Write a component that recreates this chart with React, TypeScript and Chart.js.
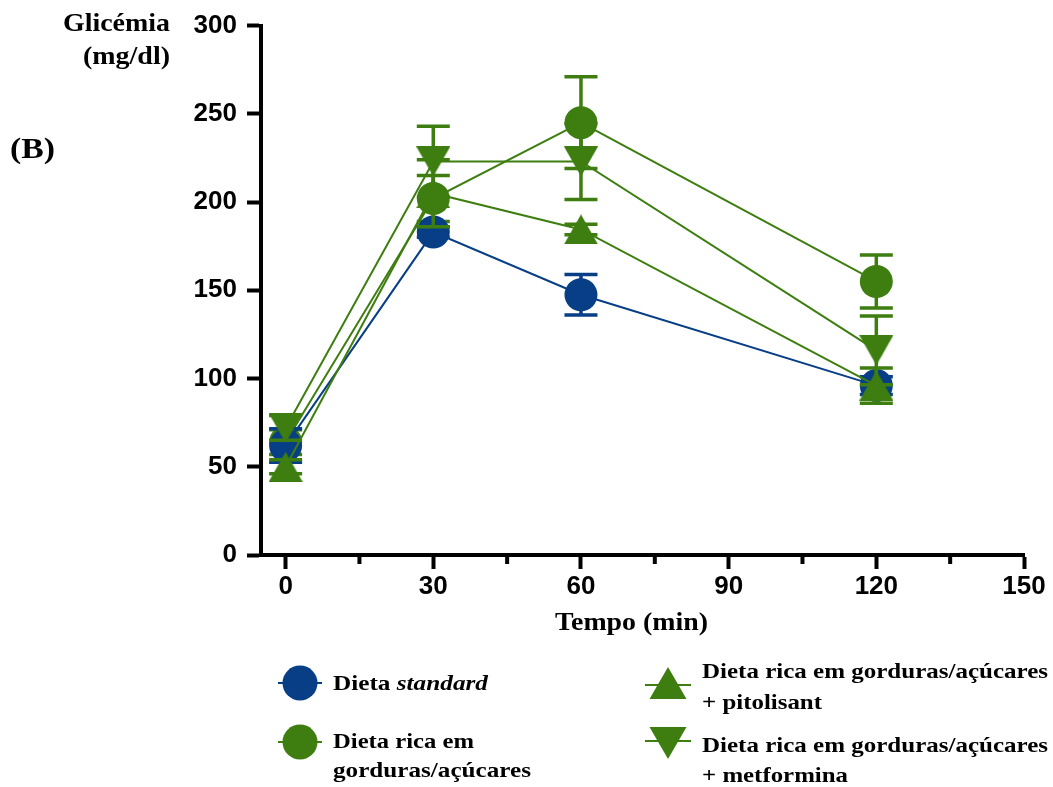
import React, { useEffect, useRef } from "react";
import { Chart, registerables } from "chart.js";

Chart.register(...registerables);

// ---- Data ----
const times = [0, 30, 60, 120];

const standardMean = [62, 183, 147.5, 96];
const standardSem = [9.5, 3, 11.5, 5];

const highFatMean = [64, 202, 245, 155];
const highFatSem = [7, 13, 26, 15];

const pitolisantMean = [50, 205, 184.5, 96];
const pitolisantSem = [4, 19, 3, 10];

const metforminMean = [72, 223, 223, 116];
const metforminSem = [7, 20, 21.5, 19.5];

const xMajorTicks = [0, 30, 60, 90, 120, 150];
const xMinorTicks = [15, 45, 75, 105, 135];
const yTicks = [0, 50, 100, 150, 200, 250, 300];

const seriesLabels = [
  "Dieta standard",
  "Dieta rica em gorduras/açúcares",
  "Dieta rica em gorduras/açúcares + pitolisant",
  "Dieta rica em gorduras/açúcares + metformina",
];

// ---- Styles ----
const BLUE = "#073e86";
const GREEN = "#3e7e10";
const MARKER_R = 16.5;
const CAP_HALF = 16.5;
const TICK_FONT = { family: "'Liberation Sans', Arial, sans-serif", weight: "bold" as const, size: 26 };
const SERIF = "'Liberation Serif', 'Times New Roman', serif";

function triangleCanvas(color: string, down: boolean) {
  const w = 34;
  const h = 30;
  const c = document.createElement("canvas");
  c.width = w;
  c.height = h;
  const ctx = c.getContext("2d")!;
  ctx.fillStyle = color;
  ctx.beginPath();
  if (down) {
    ctx.moveTo(0, 0);
    ctx.lineTo(w, 0);
    ctx.lineTo(w / 2, h);
  } else {
    ctx.moveTo(w / 2, 0);
    ctx.lineTo(w, h);
    ctx.lineTo(0, h);
  }
  ctx.closePath();
  ctx.fill();
  return c;
}

const errorBarPlugin = {
  id: "errorBars",
  beforeDatasetDraw(chart: any, args: any) {
    const ds = chart.data.datasets[args.index];
    const sem: number[] = ds.errorValues;
    if (!sem) return;
    const yScale = chart.scales.y;
    const ctx = chart.ctx;
    ctx.save();
    ctx.strokeStyle = ds.borderColor;
    ctx.lineWidth = 3.5;
    ctx.lineCap = "butt";
    args.meta.data.forEach((pt: any, i: number) => {
      const m = ds.data[i].y;
      const e = sem[i];
      const yTop = yScale.getPixelForValue(m + e);
      const yBot = yScale.getPixelForValue(m - e);
      const x = pt.x;
      ctx.beginPath();
      ctx.moveTo(x, yTop);
      ctx.lineTo(x, yBot);
      ctx.moveTo(x - CAP_HALF, yTop);
      ctx.lineTo(x + CAP_HALF, yTop);
      ctx.moveTo(x - CAP_HALF, yBot);
      ctx.lineTo(x + CAP_HALF, yBot);
      ctx.stroke();
    });
    ctx.restore();
  },
};

const minorTickPlugin = {
  id: "minorTicks",
  afterDraw(chart: any) {
    const xs = chart.scales.x;
    const ctx = chart.ctx;
    const y0 = chart.chartArea.bottom;
    ctx.save();
    ctx.strokeStyle = "#000";
    ctx.lineWidth = 4;
    xMinorTicks.forEach((v) => {
      const px = xs.getPixelForValue(v);
      ctx.beginPath();
      ctx.moveTo(px, y0);
      ctx.lineTo(px, y0 + 9);
      ctx.stroke();
    });
    ctx.restore();
  },
};

function makePoints(mean: number[]) {
  return times.map((t, i) => ({ x: t, y: mean[i] }));
}

export default function App() {
  const canvasRef = useRef<HTMLCanvasElement | null>(null);

  useEffect(() => {
    if (!canvasRef.current) return;
    const triUp = triangleCanvas(GREEN, false);
    const triDown = triangleCanvas(GREEN, true);

    const common = {
      showLine: true,
      borderWidth: 2,
      pointRadius: MARKER_R,
      pointHoverRadius: MARKER_R,
      pointBorderWidth: 0,
      clip: false as any,
      tension: 0,
    };

    const chart = new Chart(canvasRef.current, {
      type: "scatter",
      data: {
        datasets: [
          {
            ...common,
            label: seriesLabels[0],
            data: makePoints(standardMean),
            errorValues: standardSem,
            borderColor: BLUE,
            backgroundColor: BLUE,
            pointStyle: "circle",
            order: 3,
          } as any,
          {
            ...common,
            label: seriesLabels[1],
            data: makePoints(highFatMean),
            errorValues: highFatSem,
            borderColor: GREEN,
            backgroundColor: GREEN,
            pointStyle: "circle",
            order: 4,
          } as any,
          {
            ...common,
            label: seriesLabels[2],
            data: makePoints(pitolisantMean),
            errorValues: pitolisantSem,
            borderColor: GREEN,
            backgroundColor: GREEN,
            pointStyle: triUp,
            order: 2,
          } as any,
          {
            ...common,
            label: seriesLabels[3],
            data: makePoints(metforminMean),
            errorValues: metforminSem,
            borderColor: GREEN,
            backgroundColor: GREEN,
            pointStyle: triDown,
            order: 1,
          } as any,
        ],
      },
      options: {
        animation: false,
        responsive: false,
        maintainAspectRatio: false,
        layout: { padding: { left: 0, right: 29, top: 25, bottom: 0 } },
        plugins: {
          legend: { display: false },
          tooltip: { enabled: false },
        },
        scales: {
          x: {
            type: "linear",
            min: -5,
            max: 150,
            afterBuildTicks: (s: any) => {
              s.ticks = xMajorTicks.map((v) => ({ value: v }));
            },
            afterFit: (s: any) => {
              s.height = 232;
            },
            grid: {
              display: true,
              drawOnChartArea: false,
              drawTicks: true,
              tickLength: 14,
              tickWidth: 4,
              tickColor: "#000",
            },
            border: { display: true, width: 4, color: "#000" },
            ticks: {
              color: "#000",
              font: TICK_FONT,
              padding: 2,
              maxRotation: 0,
              autoSkip: false,
              callback: (v: any) => String(v),
            },
          },
          y: {
            type: "linear",
            min: 0,
            max: 300,
            afterBuildTicks: (s: any) => {
              s.ticks = yTicks.map((v) => ({ value: v }));
            },
            afterFit: (s: any) => {
              s.width = 261;
            },
            grid: {
              display: true,
              drawOnChartArea: false,
              drawTicks: true,
              tickLength: 14,
              tickWidth: 4,
              tickColor: "#000",
            },
            border: { display: true, width: 4, color: "#000" },
            ticks: {
              color: "#000",
              font: TICK_FONT,
              padding: 10,
              autoSkip: false,
              callback: (v: any) => String(v),
            },
          },
        },
      },
      plugins: [errorBarPlugin, minorTickPlugin],
    });

    return () => chart.destroy();
  }, []);

  const txt = {
    fontFamily: SERIF,
    fontWeight: "bold" as const,
    fill: "#000",
  };

  const triUpPts = (cx: number, cy: number) =>
    `${cx},${cy - 16} ${cx + 18.5},${cy + 16} ${cx - 18.5},${cy + 16}`;
  const triDownPts = (cx: number, cy: number) =>
    `${cx - 18.5},${cy - 16} ${cx + 18.5},${cy - 16} ${cx},${cy + 16}`;

  return (
    <div
      style={{
        position: "fixed",
        left: 0,
        top: 0,
        width: 1053,
        height: 787,
        background: "#fff",
      }}
    >
      <canvas
        ref={canvasRef}
        width={1053}
        height={787}
        style={{ position: "absolute", left: 0, top: 0, width: 1053, height: 787 }}
      />
      <svg
        width={1053}
        height={787}
        style={{ position: "absolute", left: 0, top: 0, pointerEvents: "none" }}
      >
        {/* Y axis title */}
        <text x={63} y={31} fontSize={25} textLength={107} lengthAdjust="spacingAndGlyphs" {...txt}>
          Glicémia
        </text>
        <text x={83} y={64} fontSize={25} textLength={87} lengthAdjust="spacingAndGlyphs" {...txt}>
          (mg/dl)
        </text>
        {/* Panel label */}
        <text x={10} y={158} fontSize={30} textLength={45} lengthAdjust="spacingAndGlyphs" {...txt}>
          (B)
        </text>
        {/* X axis title */}
        <text x={555} y={630} fontSize={26} textLength={153} lengthAdjust="spacingAndGlyphs" {...txt}>
          Tempo (min)
        </text>

        {/* Legend */}
        <line x1={278} y1={683} x2={322} y2={683} stroke={BLUE} strokeWidth={2} />
        <circle cx={300} cy={683} r={17.5} fill={BLUE} />
        <text x={333} y={690} fontSize={22} textLength={155} lengthAdjust="spacingAndGlyphs" {...txt}>
          Dieta <tspan fontStyle="italic">standard</tspan>
        </text>

        <line x1={278} y1={742} x2={322} y2={742} stroke={GREEN} strokeWidth={2} />
        <circle cx={300} cy={742} r={17.5} fill={GREEN} />
        <text x={333} y={748} fontSize={22} textLength={141} lengthAdjust="spacingAndGlyphs" {...txt}>
          Dieta rica em
        </text>
        <text x={333} y={777} fontSize={22} textLength={198} lengthAdjust="spacingAndGlyphs" {...txt}>
          gorduras/açúcares
        </text>

        <line x1={645} y1={685} x2={691} y2={685} stroke={GREEN} strokeWidth={2} />
        <polygon points={triUpPts(668, 683)} fill={GREEN} />
        <text x={702} y={678} fontSize={22} textLength={346} lengthAdjust="spacingAndGlyphs" {...txt}>
          Dieta rica em gorduras/açúcares
        </text>
        <text x={702} y={709} fontSize={22} textLength={120} lengthAdjust="spacingAndGlyphs" {...txt}>
          + pitolisant
        </text>

        <line x1={645} y1={741} x2={691} y2={741} stroke={GREEN} strokeWidth={2} />
        <polygon points={triDownPts(668, 743)} fill={GREEN} />
        <text x={702} y={752} fontSize={22} textLength={346} lengthAdjust="spacingAndGlyphs" {...txt}>
          Dieta rica em gorduras/açúcares
        </text>
        <text x={702} y={782} fontSize={22} textLength={146} lengthAdjust="spacingAndGlyphs" {...txt}>
          + metformina
        </text>
      </svg>
    </div>
  );
}
